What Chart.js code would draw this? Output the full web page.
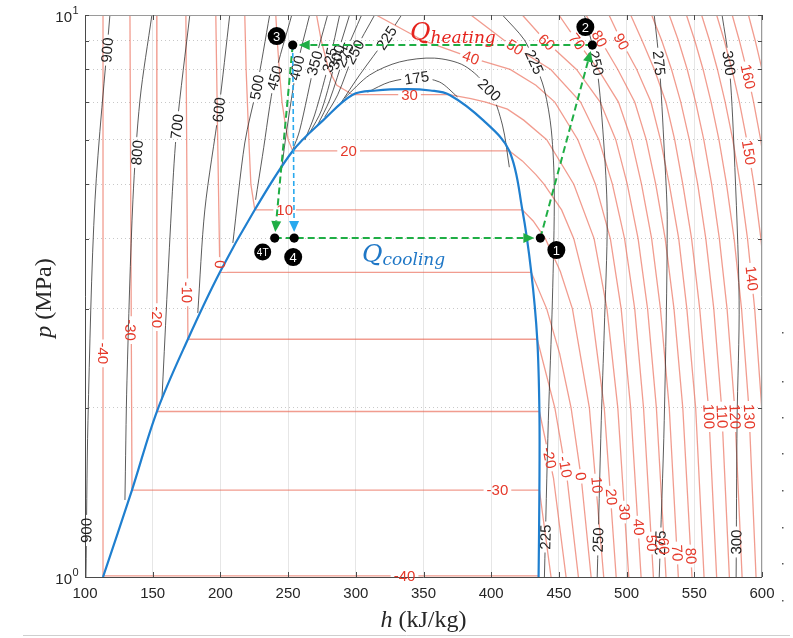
<!DOCTYPE html>
<html lang="en">
<head>
<meta charset="UTF-8">
<title>CO2 p-h diagram</title>
<script src="https://cdn.jsdelivr.net/npm/chart.js"></script>
<style>
body { margin: 0; padding: 0; background: #fff; }
#wrap { position: relative; width: 793px; height: 638px; }
</style>
</head>
<body>
<div id="wrap"><canvas id="phChart" width="793" height="638"></canvas></div>
<script>
// all curves are [h (kJ/kg), p (MPa)]
const dome = [[113.3,1.0],[134.7,1.428],[153.1,1.97],[176,2.649],[199.6,3.485],[225.4,4.502],[253.4,5.729],[276,6.5],[297.7,7.214],[315,7.34],[338,7.38],[355,7.34],[369,7.214],[394,6.5],[413.4,5.729],[423,4.502],[429.6,3.485],[434,2.649],[435.6,1.97],[435.6,1.428],[435,1.0]];

// isotherms (°C)
const tM40 = [[113.3,10],[113.3,1.0045],[435,1.0045]];
const tM30 = [[133.2,10],[134.7,1.428],[435.6,1.428],[444.2,1]];
const tM20 = [[153.0,10],[153.1,1.97],[435.6,1.97],[446,1.5],[455.3,1]];
const tM10 = [[174.5,10],[176,2.649],[434,2.649],[447,2],[456,1.5],[464.4,1]];
const t0 = [[196.6,10],[198,6],[199.6,3.485],[429.6,3.485],[441,3],[450.5,2.5],[459,2],[466.5,1.5],[473.8,1]];
const t10 = [[218,10],[219,8],[221,6],[222.5,5],[225.4,4.502],[423,4.502],[431,4.3],[440,4],[451,3.5],[460,3],[472.5,2],[483.1,1]];
const t20 = [[240.9,10],[242,9],[243.5,8],[245.5,7],[247.5,6.5],[250,6],[253.4,5.729],[413.4,5.729],[423,5.5],[433,5.2],[439,5],[452,4.5],[461,4],[474,3],[483.5,2],[492.3,1]];
const t30 = [[271,10],[274.5,9],[280,8],[286,7.5],[297.7,7.214],[369,7.214],[385,7.1],[396,7],[412,6.8],[424,6.5],[441,6],[461,5],[476,4],[485.5,3],[493.5,2],[501.6,1]];
const t40 = [[315,10],[350,9],[385,8.4],[414,8],[433,7.5],[447,7],[464,6],[477,5],[488,4],[496,3],[503,2],[510.7,1]];
const t50 = [[385,10],[410,9],[444,8],[466,7],[479.5,6],[489.5,5],[498.5,4],[506,3],[512.5,2],[519.8,1]];
const t60 = [[423,10],[440,9],[463,8],[480.5,7],[492,6],[500.5,5],[508.5,4],[515.5,3],[522,2],[529.1,1]];
const t70 = [[450,10],[463,9],[479,8],[494,7],[503.5,6],[511,5],[518.5,4],[525,3],[531.5,2],[538.2,1]];
const t80 = [[470,10],[481,9],[493.5,8],[506,7],[514.5,6],[521.5,5],[528.5,4],[535,3],[541.5,2],[548.3,1]];
const t90 = [[487,10],[496,9],[507.5,8],[518,7],[525,6],[531.5,5],[538.5,4],[544.5,3],[551,2],[557.2,1]];
const t100 = [[503,10],[511.5,9],[520.5,8],[529,7],[535.5,6],[541.5,5],[548,4],[554,3],[560.5,2],[566.5,1]];
const t110 = [[518.5,10],[526,9],[533.2,8],[540,7],[546.3,6],[552.5,5],[558.5,4],[564.4,3],[570.2,2],[575.9,1]];
const t120 = [[531.5,10],[538.3,9],[544.8,8],[551,7],[557,6],[562.8,5],[568.5,4],[574.2,3],[579.8,2],[585.3,1]];
const t130 = [[544.2,10],[550.4,9],[556.5,8],[562.4,7],[568.2,6],[573.8,5],[579.4,4],[584.9,3],[590.3,2],[595.6,1]];
const t140 = [[555.4,10],[561.3,9],[567.1,8],[572.8,7],[578.4,6],[583.9,5],[589.3,4],[594.6,3],[599.8,2],[605,1]];
const t150 = [[566.5,10],[572.2,9],[577.8,8],[583.3,7],[588.7,6],[594,5],[599.2,4],[604.3,3]];
const t160 = [[578,10],[583.3,9],[588.6,8],[593.8,7],[599,6],[604,5]];
const t170 = [[590,10],[595,9],[600,8],[605,7]];

const isoLines = [['-40',tM40],['-30',tM30],['-20',tM20],['-10',tM10],['0',t0],['10',t10],['20',t20],['30',t30],
  ['40',t40],['50',t50],['60',t60],['70',t70],['80',t80],['90',t90],['100',t100],['110',t110],['120',t120],
  ['130',t130],['140',t140],['150',t150],['160',t160],['170',t170]];

// speed of sound lines (m/s)
const s900 = [[118.4,10],[107.4,4.69],[102.2,1.90],[100.7,1]];
const s800 = [[149.4,10],[140.6,7.06],[135.4,4.69],[131,2.24],[129.5,1.371]];
const s700 = [[177.4,10],[167.9,6.33],[164.2,4.69],[156.8,2.07]];
const s600 = [[206.9,10],[198.8,6.78],[188.5,4.50],[183.3,2.95]];
const s500 = [[236.4,10],[226.9,7.44],[218,5.92],[209.2,3.93]];
const s450 = [[252.7,10],[240.1,7.73],[231,5.6],[226,4.69]];
const s400 = [[265.9,10],[256.4,8.05],[249,6.24],[245.3,5.34]];
const s350 = [[279.2,10],[269.6,8.21],[258.6,6.24],[253.4,5.75]];
const s325 = [[288.1,10],[280.7,8.32],[269.6,6.64],[262.3,5.99]];
const s300 = [[295.4,10],[285.9,8.42],[274.8,6.78],[265.9,6.17]];
const s275 = [[304.3,10],[291.8,8.49],[280.7,7.06],[271.8,6.37]];
const s250 = [[313.9,10],[299.1,8.59],[286.6,7.21],[277,6.58]];
const s225 = [[333.8,10],[322.7,9.10],[302.8,7.82],[288.6,6.95]];
const s200 = [[291.8,7.12],[310.2,7.82],[332.3,8.25],[358.1,8.38],[380.3,8.12],[398.7,7.36],[408.3,6.37],[413.4,5.36]];
const s175 = [[308.7,7.29],[325,7.60],[344.9,7.73],[361.8,7.60],[375.1,7.15]];
const s225r = [[408.3,10],[424.5,9.03],[431.9,8.25],[439.3,7.36],[444.4,6.24],[446.6,4.88],[445.2,3.11],[442.2,1.90],[439.3,1]];
const s250r = [[468.8,10],[477.6,8.21],[483.5,5.75],[485.7,4.32],[483.5,2.75],[481.3,1.90],[478.3,1]];
const s275r = [[520.4,10],[524.1,8.21],[527.8,5.75],[530,4.32],[527.8,1.90],[524.1,1]];
const s300r = [[570.5,10],[575.7,8.21],[579.4,5.75],[583.1,3.11],[581.6,1.90],[580.9,1]];

const sosLines = [['900',s900],['800',s800],['700',s700],['600',s600],['500',s500],['450',s450],['400',s400],
  ['350',s350],['325',s325],['300',s300],['275',s275],['250',s250],['225',s225],['200',s200],['175',s175],
  ['225',s225r],['250',s250r],['275',s275r],['300',s300r]];

// inline contour labels [text, h, p]
const isoLabels = [
  ['-40',113.3,2.50],['-30',133.6,2.75],['-20',153.05,2.90],['-10',175.3,3.21],['0',199.6,3.6],
  ['10',247.5,4.502],['20',294.7,5.729],['30',339.7,7.214],['-30',404.6,1.428],['-40',336,1.0045],
  ['40',385,8.4],['50',417.6,8.77],['60',441,8.95],['70',463.5,8.97],['80',480,9.08],['90',496.3,8.97],
  ['160',589.8,7.77],['150',590.3,5.69],['140',592.5,3.40],
  ['130',590.7,1.93],['120',580.2,1.93],['110',570.6,1.93],['100',560.9,1.93],
  ['-20',443,1.63],['-10',454.7,1.57],['0',466.3,1.51],['10',478.2,1.458],['20',488.9,1.388],
  ['30',498.5,1.305],['40',509,1.227],['50',518.7,1.149],['60',527.5,1.135],['70',537.5,1.103],['80',547.7,1.09]
];
const sosLabels = [
  ['900',116.3,8.66],['900',101,1.21],['800',138.4,5.69],['700',167.9,6.33],['600',198.8,6.78],
  ['500',226.9,7.44],['450',240.1,7.73],['400',256.4,8.05],['350',269.6,8.21],['325',280.7,8.32],
  ['300',285.9,8.42],['275',291.8,8.49],['250',299.1,8.59],['225',322.7,9.10],['175',344.9,7.73],
  ['200',398.7,7.36],['225',431.9,8.25],['225',440,1.178],['250',477.6,8.21],['250',478.8,1.164],
  ['275',524.1,8.21],['275',524.8,1.149],['300',575.7,8.21],['300',581,1.154]
];

// cycle states
const stateNames = ['1','2','3','4','4T'];
const stateH = [436.3, 474.7, 253.4, 254.5, 240.1];
const stateP = [4.01, 8.84, 8.84, 4.01, 4.01];
const greenPath = [[0,1],[1,2],[2,4],[4,0]];
const bluePath = [[2,3]];

// axis ticks
const pTicks = [1, 2, 3, 4, 5, 6, 7, 8, 9, 10];
const yMajor = [1, 10];

const RED_LINE = 'rgba(232,95,75,0.62)';
const RED_TEXT = '#e5392a';
const BLACK_LINE = 'rgba(45,45,45,0.78)';
const BLACK_TEXT = '#1e1e1e';
const LABEL_FONT = '15px "Liberation Sans", Arial, sans-serif';
const badgeOffset = {'1':[16,12], '2':[-7,-18], '3':[-16,-9], '4':[-1,19], '4T':[-12,14]};

const toXY = pts => pts.map(([h, p]) => ({x: h, y: p}));
const datasets = [];
datasets.push({data: toXY(dome), borderColor: '#1f7fcf', borderWidth: 2.2, tension: 0.35, kind: 'dome'});
sosLines.forEach(([n, pts]) => datasets.push({data: toXY(pts), borderColor: BLACK_LINE, borderWidth: 1, tension: 0.3, kind: 'sos', name: n}));
isoLines.forEach(([n, pts]) => datasets.push({data: toXY(pts), borderColor: RED_LINE, borderWidth: 1.3, tension: 0, kind: 'iso', name: n}));
datasets.forEach(d => { d.showLine = true; d.pointRadius = 0; d.fill = false; });

function segDist(px, py, a, b) {
  const dx = b.x - a.x, dy = b.y - a.y, L = dx * dx + dy * dy;
  let t = L ? ((px - a.x) * dx + (py - a.y) * dy) / L : 0;
  t = Math.max(0, Math.min(1, t));
  const qx = a.x + t * dx - px, qy = a.y + t * dy - py;
  return Math.sqrt(qx * qx + qy * qy);
}

function placeLabels(chart) {
  const xs = chart.scales.x, ys = chart.scales.y, ctx = chart.ctx;
  ctx.save();
  ctx.font = LABEL_FONT;
  chart.data.datasets.forEach(ds => { ds.gaps = []; });
  const place = (list, kind, color) => list.forEach(([text, h, p]) => {
    const px = xs.getPixelForValue(h), py = ys.getPixelForValue(p);
    let best = null;
    chart.data.datasets.forEach((ds, i) => {
      if (ds.kind !== kind || ds.name !== text) return;
      const pts = chart.getDatasetMeta(i).data;
      for (let k = 0; k < pts.length - 1; k++) {
        const d = segDist(px, py, pts[k], pts[k + 1]);
        if (!best || d < best.d) best = {d, ds, a: Math.atan2(pts[k + 1].y - pts[k].y, pts[k + 1].x - pts[k].x)};
      }
    });
    if (!best) return;
    let a = best.a;
    if (a > Math.PI / 2 + 1e-6) a -= Math.PI;
    if (a < -Math.PI / 2 - 1e-6) a += Math.PI;
    best.ds.gaps.push({x: px, y: py, a, w: ctx.measureText(text).width + 6, h: 14, text, color});
  });
  place(isoLabels, 'iso', RED_TEXT);
  place(sosLabels, 'sos', BLACK_TEXT);
  ctx.restore();
}

function arrow(ctx, x1, y1, x2, y2, color, width, dash) {
  const ang = Math.atan2(y2 - y1, x2 - x1), c = Math.cos(ang), s = Math.sin(ang);
  const tx = x2 - c * 6, ty = y2 - s * 6, L = 11, W = 5;
  const bx = tx - c * L, by = ty - s * L;
  ctx.save();
  ctx.strokeStyle = color; ctx.lineWidth = width; ctx.setLineDash(dash);
  ctx.beginPath(); ctx.moveTo(x1, y1); ctx.lineTo(bx, by); ctx.stroke();
  ctx.setLineDash([]);
  ctx.fillStyle = color;
  ctx.beginPath(); ctx.moveTo(tx, ty);
  ctx.lineTo(bx - s * W, by + c * W); ctx.lineTo(bx + s * W, by - c * W);
  ctx.closePath(); ctx.fill();
  ctx.restore();
}

function subText(ctx, x, y, main, sub, color) {
  ctx.fillStyle = color;
  ctx.textAlign = 'left'; ctx.textBaseline = 'alphabetic';
  ctx.font = 'italic 25px "DejaVu Serif", serif';
  ctx.fillText(main, x, y);
  const w = ctx.measureText(main).width;
  ctx.font = 'italic 17px "DejaVu Serif", serif';
  ctx.fillText(sub, x + w, y + 3);
}

const decor = {
  id: 'decor',
  beforeDatasetsDraw(chart) { placeLabels(chart); },
  beforeDatasetDraw(chart, args) {
    const ds = chart.data.datasets[args.index];
    if (!ds.gaps || !ds.gaps.length) return;
    const ctx = chart.ctx;
    ctx.save();
    ctx.beginPath();
    ctx.rect(0, 0, chart.width, chart.height);
    ds.gaps.forEach(g => {
      const c = Math.cos(g.a), s = Math.sin(g.a), hw = g.w / 2, hh = g.h / 2;
      const cs = [[-hw,-hh],[hw,-hh],[hw,hh],[-hw,hh]].map(([u, v]) => [g.x + u * c - v * s, g.y + u * s + v * c]);
      ctx.moveTo(cs[0][0], cs[0][1]);
      for (let k = 1; k < 4; k++) ctx.lineTo(cs[k][0], cs[k][1]);
      ctx.closePath();
    });
    ctx.clip('evenodd');
  },
  afterDatasetDraw(chart, args) {
    const ds = chart.data.datasets[args.index];
    if (ds.gaps && ds.gaps.length) chart.ctx.restore();
  },
  afterDatasetsDraw(chart) {
    const ctx = chart.ctx, xs = chart.scales.x, ys = chart.scales.y, a = chart.chartArea;

    // axes box and inward ticks
    ctx.save();
    ctx.lineWidth = 1;
    ctx.strokeStyle = '#9a9a9a';
    ctx.beginPath();
    ctx.moveTo(a.left, a.top + 0.5); ctx.lineTo(a.right - 0.5, a.top + 0.5); ctx.lineTo(a.right - 0.5, a.bottom);
    ctx.stroke();
    ctx.strokeStyle = '#4a4a4a';
    ctx.beginPath();
    ctx.moveTo(a.left + 0.5, a.top); ctx.lineTo(a.left + 0.5, a.bottom + 0.5); ctx.lineTo(a.right, a.bottom + 0.5);
    ctx.stroke();
    ctx.beginPath();
    xs.ticks.forEach(t => {
      const x = Math.round(xs.getPixelForValue(t.value)) + 0.5;
      ctx.moveTo(x, a.bottom); ctx.lineTo(x, a.bottom - 5);
      ctx.moveTo(x, a.top); ctx.lineTo(x, a.top + 5);
    });
    ys.ticks.forEach(t => {
      const y = Math.round(ys.getPixelForValue(t.value)) + 0.5;
      ctx.moveTo(a.left, y); ctx.lineTo(a.left + 4, y);
      ctx.moveTo(a.right, y); ctx.lineTo(a.right - 4, y);
    });
    ctx.stroke();
    ctx.restore();

    // contour label text
    ctx.save();
    ctx.font = LABEL_FONT; ctx.textAlign = 'center'; ctx.textBaseline = 'middle';
    chart.data.datasets.forEach(ds => (ds.gaps || []).forEach(g => {
      ctx.save();
      ctx.translate(g.x, g.y); ctx.rotate(g.a);
      ctx.fillStyle = g.color;
      ctx.fillText(g.text, 0, 1);
      ctx.restore();
    }));
    ctx.restore();

    // y tick labels 10^n
    ctx.save();
    ctx.fillStyle = '#262626';
    yMajor.forEach(v => {
      const y = ys.getPixelForValue(v);
      ctx.font = '15px "Liberation Sans", Arial, sans-serif';
      ctx.textAlign = 'right'; ctx.textBaseline = 'middle';
      ctx.fillText('10', 72, y + 3);
      ctx.font = '11px "Liberation Sans", Arial, sans-serif';
      ctx.textAlign = 'left';
      ctx.fillText(String(Math.round(Math.log10(v))), 72.5, y - 4);
    });
    // axis titles
    ctx.font = 'italic 24px "Liberation Serif", serif';
    ctx.textBaseline = 'alphabetic'; ctx.textAlign = 'left';
    const hw = ctx.measureText('h').width;
    ctx.font = '24px "Liberation Serif", serif';
    const rest = ' (kJ/kg)', rw = ctx.measureText(rest).width;
    let x0 = (a.left + a.right) / 2 - (hw + rw) / 2;
    ctx.font = 'italic 24px "Liberation Serif", serif';
    ctx.fillText('h', x0, 627);
    ctx.font = '24px "Liberation Serif", serif';
    ctx.fillText(rest, x0 + hw, 627);
    ctx.save();
    ctx.translate(51, (a.top + a.bottom) / 2 + 2);
    ctx.rotate(-Math.PI / 2);
    ctx.font = 'italic 24px "Liberation Serif", serif';
    const pw = ctx.measureText('p').width;
    ctx.font = '24px "Liberation Serif", serif';
    const mw = ctx.measureText(' (MPa)').width;
    x0 = -(pw + mw) / 2;
    ctx.font = 'italic 24px "Liberation Serif", serif';
    ctx.fillText('p', x0, 0);
    ctx.font = '24px "Liberation Serif", serif';
    ctx.fillText(' (MPa)', x0 + pw, 0);
    ctx.restore();
    ctx.restore();

    // cycle
    const P = stateNames.map((n, i) => [xs.getPixelForValue(stateH[i]), ys.getPixelForValue(stateP[i])]);
    greenPath.forEach(([i, j]) => arrow(ctx, P[i][0], P[i][1], P[j][0], P[j][1], '#1fae45', 2, [7, 4]));
    bluePath.forEach(([i, j]) => arrow(ctx, P[i][0], P[i][1], P[j][0], P[j][1], '#29a9ee', 1.6, [5, 3]));
    ctx.save();
    P.forEach(([x, y], i) => {
      ctx.fillStyle = '#000';
      ctx.beginPath(); ctx.arc(x, y, 4.6, 0, Math.PI * 2); ctx.fill();
      const n = stateNames[i], [dx, dy] = badgeOffset[n];
      const r = n.length > 1 ? 8.5 : 9;
      ctx.beginPath(); ctx.arc(x + dx, y + dy, r, 0, Math.PI * 2); ctx.fill();
      ctx.fillStyle = '#fff';
      ctx.font = (n.length > 1 ? '10px' : '13px') + ' "Liberation Sans", Arial, sans-serif';
      ctx.textAlign = 'center'; ctx.textBaseline = 'middle';
      ctx.fillText(n, x + dx, y + dy + 1);
    });
    ctx.restore();

    // heat labels
    ctx.save();
    subText(ctx, 410, 40, 'Q', 'heating', '#e5231d');
    subText(ctx, 362, 262, 'Q', 'cooling', '#1f77c6');
    ctx.restore();

    // page edge marks
    ctx.save();
    ctx.strokeStyle = '#cfcfcf'; ctx.lineWidth = 1;
    ctx.beginPath(); ctx.moveTo(23, 635.5); ctx.lineTo(790, 635.5); ctx.stroke();
    ctx.fillStyle = '#555';
    [332, 381, 417, 453, 490, 527, 563, 600].forEach(y => ctx.fillRect(782, y, 1.5, 1.5));
    ctx.restore();
  }
};

new Chart(document.getElementById("phChart"), {
  type: 'scatter',
  data: { datasets: datasets },
  options: {
    responsive: false,
    animation: false,
    devicePixelRatio: 1,
    events: [],
    layout: { padding: { left: 0, right: 31, top: 15, bottom: 0 } },
    plugins: { legend: { display: false }, tooltip: { enabled: false } },
    scales: {
      x: {
        type: 'linear', min: 100, max: 600,
        afterFit: s => { s.height = 61; },
        ticks: { stepSize: 50, color: '#262626', padding: 8, font: { family: 'Liberation Sans', size: 15 } },
        grid: { color: '#e6e6e6', drawTicks: false },
        border: { display: false }
      },
      y: {
        type: 'logarithmic', min: 1, max: 10,
        afterFit: s => { s.width = 85; },
        afterBuildTicks: s => { s.ticks = pTicks.map(v => ({value: v})); },
        ticks: { display: false },
        grid: { color: c => (c.tick && (c.tick.value === 1 || c.tick.value === 10)) ? 'rgba(0,0,0,0)' : '#c8c8c8', drawTicks: false },
        border: { display: false, dash: [1, 3] }
      }
    }
  },
  plugins: [decor]
});
</script>
</body>
</html>
